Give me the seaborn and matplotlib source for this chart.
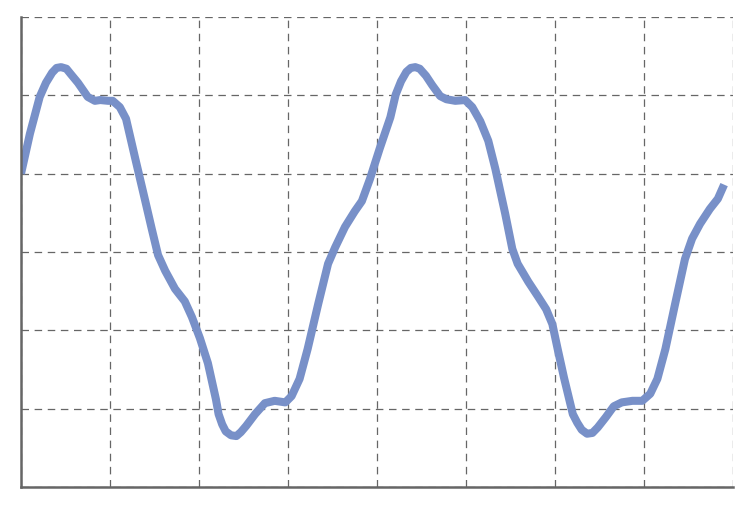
import numpy as np
import pandas as pd
import matplotlib
matplotlib.use("Agg")
import matplotlib.pyplot as plt
import seaborn as sns

x_values = [0.00, 0.10, 0.21, 0.28, 0.35, 0.40, 0.45, 0.51, 0.56, 0.64,
            0.75, 0.83, 0.89, 0.98, 1.03, 1.11, 1.18, 1.28, 1.39, 1.47,
            1.54, 1.62, 1.73, 1.84, 1.92, 2.01, 2.10, 2.19, 2.22, 2.26,
            2.30, 2.36, 2.42, 2.47, 2.53, 2.63, 2.74, 2.85, 2.97, 3.04,
            3.13, 3.22, 3.34, 3.45, 3.53, 3.64, 3.75, 3.83, 3.92, 4.03,
            4.15, 4.21, 4.27, 4.33, 4.38, 4.43, 4.48, 4.55, 4.62, 4.71,
            4.78, 4.88, 4.99, 5.07, 5.16, 5.25, 5.33, 5.44, 5.52, 5.58,
            5.70, 5.81, 5.90, 5.97, 6.03, 6.10, 6.20, 6.25, 6.30, 6.36,
            6.42, 6.48, 6.57, 6.66, 6.75, 6.87, 6.98, 7.07, 7.15, 7.24,
            7.35, 7.46, 7.54, 7.63, 7.74, 7.83, 7.90]
y_values = [1.00, 1.51, 1.98, 2.16, 2.29, 2.35, 2.36, 2.34, 2.27, 2.16,
            1.98, 1.93, 1.94, 1.93, 1.93, 1.85, 1.70, 1.21, 0.68, 0.29,
            -0.04, -0.24, -0.47, -0.63, -0.83, -1.10, -1.42, -1.88, -2.07, -2.20,
            -2.29, -2.34, -2.35, -2.30, -2.22, -2.07, -1.93, -1.90, -1.92, -1.84,
            -1.62, -1.24, -0.66, -0.15, 0.06, 0.32, 0.52, 0.65, 0.93, 1.32,
            1.72, 2.01, 2.18, 2.30, 2.35, 2.36, 2.34, 2.25, 2.13, 1.99,
            1.95, 1.93, 1.94, 1.85, 1.67, 1.42, 1.06, 0.49, 0.04, -0.15,
            -0.38, -0.57, -0.73, -0.92, -1.24, -1.60, -2.07, -2.18, -2.27, -2.32,
            -2.31, -2.24, -2.11, -1.97, -1.92, -1.90, -1.90, -1.81, -1.62, -1.24,
            -0.66, -0.09, 0.17, 0.36, 0.55, 0.68, 0.86]

x_ticks = list(range(0, 9))
y_ticks = list(range(-3, 4))

data = pd.DataFrame({"x": x_values, "y": y_values})

sns.set_style("white")
fig = plt.figure(figsize=(7.56, 5.06), dpi=100)
ax = fig.add_axes([0.0278, 0.0356, 0.9418, 0.9288])

sns.lineplot(data=data, x="x", y="y", sort=False, ax=ax,
             color="#7890c8", linewidth=5.8,
             solid_capstyle="butt", solid_joinstyle="round")

ax.set_xlim(0, 8)
ax.set_ylim(-3, 3)
ax.set_xticks(x_ticks)
ax.set_yticks(y_ticks)
ax.set_xticklabels([])
ax.set_yticklabels([])
ax.set_xlabel("")
ax.set_ylabel("")
ax.tick_params(length=0)
ax.grid(True, linestyle=(0, (6, 4.5)), color="#555555", linewidth=0.9, alpha=0.9)
ax.set_axisbelow(True)

for side in ["top", "right"]:
    ax.spines[side].set_visible(False)
for side in ["left", "bottom"]:
    ax.spines[side].set_color("#666666")
    ax.spines[side].set_linewidth(1.8)

fig.savefig("out.png", dpi=100)
